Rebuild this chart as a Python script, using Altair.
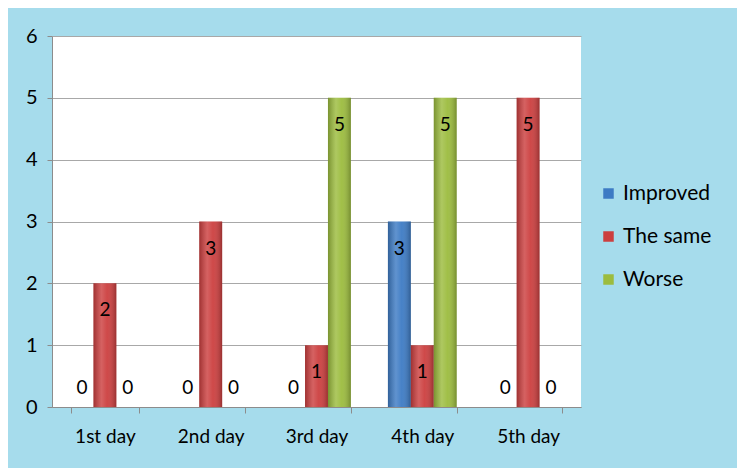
import altair as alt
import pandas as pd

days = ["1st day", "2nd day", "3rd day", "4th day", "5th day"]
series = ["Improved", "The same", "Worse"]
improved = [0, 0, 0, 3, 0]
same = [2, 3, 1, 1, 5]
worse = [0, 0, 5, 5, 0]
colors = ["#3D7BC4", "#CC3F3F", "#9CBC3E"]

rows = []
for i, d in enumerate(days):
    for s, vals in zip(series, [improved, same, worse]):
        rows.append({"day": d, "series": s, "value": vals[i]})
df = pd.DataFrame(rows)

FONT = "Lato"

x = alt.X("day:N", sort=days, title=None,
          scale=alt.Scale(paddingInner=0.35, paddingOuter=0.175),
          axis=alt.Axis(labelAngle=0, labelFontSize=19, labelFont=FONT, labelColor="#000000",
                        labelPadding=14, tickBand="extent", tickSize=6, tickColor="#8C8C8C",
                        domainColor="#8C8C8C", grid=False))
xo = alt.XOffset("series:N", sort=series, scale=alt.Scale(domain=series))
y = alt.Y("value:Q", title=None,
          scale=alt.Scale(domain=[0, 6]),
          axis=alt.Axis(values=[0, 1, 2, 3, 4, 5, 6], labelFontSize=20, labelFont=FONT,
                        labelColor="#000000", labelPadding=10, tickSize=5, tickColor="#8C8C8C",
                        domainColor="#8C8C8C", gridColor="#A8A8A8", gridWidth=1.2))

bars = alt.Chart(df).mark_bar().encode(
    x=x, xOffset=xo, y=y,
    color=alt.Color("series:N", sort=series,
                    scale=alt.Scale(domain=series, range=colors),
                    legend=alt.Legend(title=None, orient="none", legendX=546, legendY=147,
                                      symbolType="square", symbolSize=110, symbolStrokeWidth=0,
                                      labelFontSize=21, labelFont=FONT, labelColor="#000000",
                                      rowPadding=21, labelOffset=4)),
)

shade = alt.Chart(df).mark_bar(
    fill=alt.Gradient(
        gradient="linear", x1=0, x2=1, y1=0, y2=0,
        stops=[alt.GradientStop(color="rgba(0,0,0,0.22)", offset=0),
               alt.GradientStop(color="rgba(255,255,255,0.18)", offset=0.35),
               alt.GradientStop(color="rgba(255,255,255,0.05)", offset=0.6),
               alt.GradientStop(color="rgba(0,0,0,0.25)", offset=1)]),
).encode(x=x, xOffset=xo, y=y)

lab_nz = alt.Chart(df).transform_filter("datum.value > 0").mark_text(
    dy=27, fontSize=19, font=FONT, color="#000000", baseline="middle"
).encode(x=x, xOffset=xo, y=y, text="value:Q")

lab_z = alt.Chart(df).transform_filter("datum.value == 0").mark_text(
    dy=-19, fontSize=19, font=FONT, color="#000000", baseline="middle"
).encode(x=x, xOffset=xo, y=y, text="value:Q")

chart = alt.layer(bars, shade, lab_nz, lab_z).properties(
    width=529, height=371,
    autosize=alt.AutoSizeParams(type="none"),
    padding={"left": 44, "top": 28, "right": 156, "bottom": 61},
).configure(background="#A6DCEC").configure_view(fill="#FFFFFF", stroke=None)

chart.save("out.html", embed_options={"renderer": "svg", "actions": False})
